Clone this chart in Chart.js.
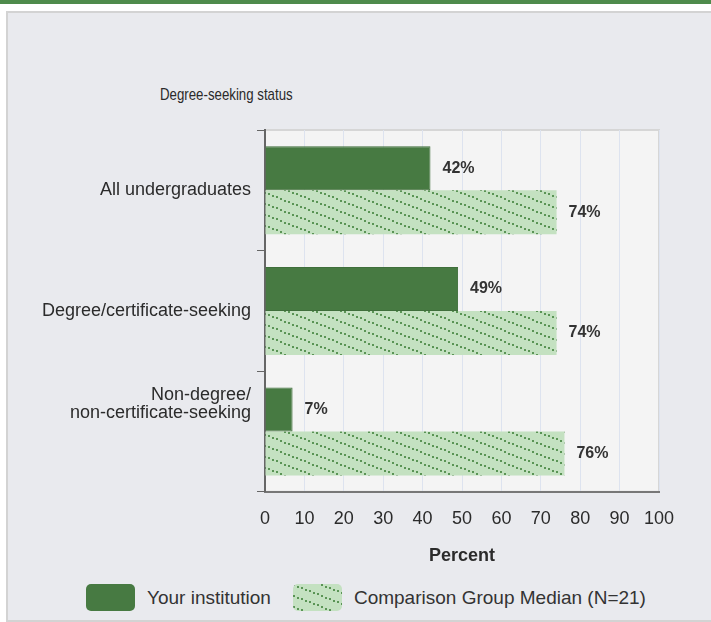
<!DOCTYPE html>
<html>
<head>
<meta charset="utf-8">
<script src="https://cdn.jsdelivr.net/npm/chart.js@4.4.0/dist/chart.umd.min.js"></script>
<style>
  body { margin: 0; width: 711px; height: 622px; overflow: hidden; background: #fff;
         font-family: 'Liberation Sans', Arial, sans-serif; }
  #topbar { position: absolute; left: 0; top: 0; width: 711px; height: 4px; background: #4e8b4c; }
  #panel { position: absolute; left: 6px; top: 11px; width: 720px; height: 607px;
           background: #e9eaee; border: 2px solid #d3d3d3; }
  #titulo { position: absolute; left: 160px; top: 85px; font-size: 17px; color: #2b2b2b;
            transform: scaleX(0.78); transform-origin: left center; white-space: nowrap; }
  #wrap { position: absolute; left: 0; top: 0; width: 711px; height: 567px; }
  #legend { position: absolute; left: 86px; top: 584px; display: flex; align-items: center;
            font-size: 19px; color: #333; }
  #legend .sw { width: 49px; height: 27px; border-radius: 5px; display: block; }
  #legend span { margin: 0 22px 0 12px; }
</style>
</head>
<body>
<div id="topbar"></div>
<div id="panel"></div>
<div id="titulo">Degree-seeking status</div>
<div id="wrap"><canvas id="chart"></canvas></div>
<div id="legend">
  <div class="sw" style="background:#477a42"></div><span>Your institution</span>
  <canvas class="sw" id="swatch2" width="49" height="27"></canvas><span>Comparison Group Median (N=21)</span>
</div>
<script>
const categorias = [['All undergraduates'], ['Degree/certificate-seeking'], ['Non-degree/', 'non-certificate-seeking']];
const tuInstitucion = [42, 49, 7];
const medianaGrupo = [74, 74, 76];
const ticksX = [0, 10, 20, 30, 40, 50, 60, 70, 80, 90, 100];

const FONT = "'Liberation Sans', Arial, sans-serif";

// patron de puntos en diagonal para la mediana
function crearPatron(ctx) {
    const c = document.createElement('canvas');
    c.width = 28; c.height = 11;
    const g = c.getContext('2d');
    g.fillStyle = '#c4e1c1';
    g.fillRect(0, 0, 28, 11);
    g.fillStyle = '#5a9455';
    for (let i = 0; i < 7; i++) {
        const x = i * 4;
        g.fillRect(x, Math.round(x * 11 / 28), 2, 2);
    }
    return ctx.createPattern(c, 'repeat');
}

const sw = document.getElementById('swatch2').getContext('2d');
sw.fillStyle = crearPatron(sw);
sw.fillRect(0, 0, 49, 27);

const fondoPlot = {
    id: 'fondoPlot',
    beforeDraw(chart) {
        const { ctx, chartArea: a } = chart;
        ctx.save();
        ctx.fillStyle = '#f4f4f4';
        ctx.fillRect(a.left, a.top, a.right - a.left, a.bottom - a.top);
        ctx.strokeStyle = '#d6d6d6';
        ctx.lineWidth = 2;
        ctx.strokeRect(a.left, a.top, a.right - a.left, a.bottom - a.top);
        ctx.restore();
    }
};

const etiquetas = {
    id: 'etiquetas',
    afterDatasetsDraw(chart) {
        const ctx = chart.ctx;
        ctx.save();
        ctx.font = 'bold 16px ' + FONT;
        ctx.fillStyle = '#333';
        ctx.textBaseline = 'middle';
        chart.data.datasets.forEach((ds, i) => {
            chart.getDatasetMeta(i).data.forEach((bar, j) => {
                ctx.fillText(ds.data[j] + '%', bar.x + 12, bar.y);
            });
        });
        ctx.restore();
    }
};

const ctx = document.getElementById('chart').getContext('2d');

new Chart(ctx, {
    type: 'bar',
    data: {
        labels: categorias,
        datasets: [{
            label: 'Your institution',
            data: tuInstitucion,
            backgroundColor: '#477a42',
            borderColor: '#3f6f3b',
            borderWidth: 1,
            categoryPercentage: 0.73,
            barPercentage: 1
        }, {
            label: 'Comparison Group Median (N=21)',
            data: medianaGrupo,
            backgroundColor: crearPatron(ctx),
            borderWidth: 0,
            categoryPercentage: 0.73,
            barPercentage: 1
        }]
    },
    options: {
        indexAxis: 'y',
        responsive: true,
        maintainAspectRatio: false,
        animation: false,
        layout: { padding: { left: 40, right: 52, top: 130, bottom: 0 } },
        plugins: {
            legend: { display: false },
            tooltip: { enabled: false },
            title: { display: false }
        },
        scales: {
            x: {
                min: 0,
                max: 100,
                afterBuildTicks(scale) { scale.ticks = ticksX.map(v => ({ value: v })); },
                grid: { color: '#dde3ef', drawTicks: false },
                border: { color: '#777', width: 2 },
                ticks: { color: '#2b2b2b', padding: 16, font: { family: FONT, size: 18 } },
                title: {
                    display: true,
                    text: 'Percent',
                    color: '#2b2b2b',
                    font: { family: FONT, size: 18, weight: 'bold' },
                    padding: { top: 0, bottom: 0 }
                }
            },
            y: {
                afterFit(scale) { scale.width = 265 - 40; },
                grid: { drawOnChartArea: false, tickLength: 8, color: '#666', offset: true },
                border: { color: '#666', width: 2 },
                ticks: {
                    color: '#2b2b2b',
                    padding: 6,
                    font: { family: FONT, size: 18, lineHeight: 1.0 },
                    // la etiqueta de dos lineas va mas arriba en el original
                    callback(value) {
                        const l = this.getLabelForValue(value);
                        return Array.isArray(l) && l.length > 1 ? l.concat(['', '', '']) : l;
                    }
                }
            }
        }
    },
    plugins: [fondoPlot, etiquetas]
});
</script>
</body>
</html>
